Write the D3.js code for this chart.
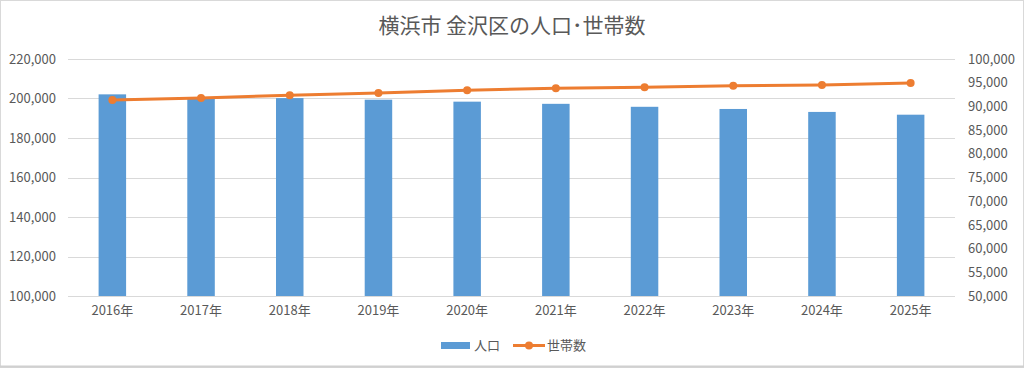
<!DOCTYPE html>
<html>
<head>
<meta charset="utf-8">
<script src="https://cdn.jsdelivr.net/npm/d3@7"></script>
<style>
  body { margin: 0; background: #fff; }
  text { font-family: "Noto Sans CJK JP", "Noto Sans", sans-serif; fill: #595959; }
</style>
</head>
<body>
<div id="chart"></div>
<script>
// data
var years = ["2016年", "2017年", "2018年", "2019年", "2020年", "2021年", "2022年", "2023年", "2024年", "2025年"];
var population = [202100, 200200, 200200, 199400, 198400, 197300, 195800, 194700, 193200, 191800];
var households = [91350, 91780, 92350, 92830, 93400, 93830, 94040, 94370, 94520, 94940];
var leftTicks = [100000, 120000, 140000, 160000, 180000, 200000, 220000];
var rightTicks = [50000, 55000, 60000, 65000, 70000, 75000, 80000, 85000, 90000, 95000, 100000];

var W = 1024, H = 368;
var margin = {top: 59, right: 69, bottom: 72, left: 68},
    width = W - margin.left - margin.right,
    height = H - margin.top - margin.bottom;

var root = d3.select("#chart").append("svg")
    .attr("width", W)
    .attr("height", H);

// chart border
root.append("rect")
    .attr("x", 0.5).attr("y", 0.5)
    .attr("width", W - 1).attr("height", H - 1)
    .attr("fill", "#fff")
    .attr("stroke", "#d9d9d9");
root.append("line")
    .attr("x1", 0).attr("x2", W)
    .attr("y1", H - 1.5).attr("y2", H - 1.5)
    .attr("stroke", "#d0d0d0").attr("stroke-width", 2);

// title
root.append("text")
    .attr("x", 512)
    .attr("y", 33)
    .attr("text-anchor", "middle")
    .style("font-size", "21px")
    .text("横浜市 金沢区の人口･世帯数");

var svg = root.append("g")
    .attr("transform", "translate(" + margin.left + "," + margin.top + ")");

var x = d3.scaleBand()
    .domain(years)
    .range([0, width])
    .paddingInner(0.69)
    .paddingOuter(0.345);

var y = d3.scaleLinear()
    .domain([100000, 220000])
    .range([height, 0]);

var y2 = d3.scaleLinear()
    .domain([50000, 100000])
    .range([height, 0]);

var fmt = d3.format(",");

// gridlines
svg.append("g")
  .selectAll("line")
  .data(leftTicks)
  .enter()
  .append("line")
    .attr("x1", 0)
    .attr("x2", width)
    .attr("y1", function(d) { return Math.round(y(d)) + 0.5; })
    .attr("y2", function(d) { return Math.round(y(d)) + 0.5; })
    .attr("stroke", "#d9d9d9")
    .attr("stroke-width", 1);

// left axis
var leftAxis = svg.append("g")
    .call(d3.axisLeft(y).tickValues(leftTicks).tickFormat(fmt).tickSize(0).tickPadding(12));
leftAxis.select(".domain").remove();
leftAxis.selectAll("text").style("font-size", "13px").attr("fill", "#595959");

// right axis
var rightAxis = svg.append("g")
    .attr("transform", "translate(" + width + ",0)")
    .call(d3.axisRight(y2).tickValues(rightTicks).tickFormat(fmt).tickSize(0).tickPadding(13));
rightAxis.select(".domain").remove();
rightAxis.selectAll("text").style("font-size", "13px").attr("fill", "#595959");

// x axis
var xAxis = svg.append("g")
    .attr("transform", "translate(0," + height + ")")
    .call(d3.axisBottom(x).tickSize(0).tickPadding(10));
xAxis.select(".domain").remove();
xAxis.selectAll("text").style("font-size", "13px").attr("fill", "#595959");

// bars
svg.selectAll("myBars")
  .data(years)
  .enter()
  .append("rect")
    .attr("x", function(d) { return x(d); })
    .attr("y", function(d, i) { return y(population[i]); })
    .attr("width", x.bandwidth())
    .attr("height", function(d, i) { return height - y(population[i]); })
    .attr("fill", "#5b9bd5");

// household line
var line = d3.line()
    .x(function(d, i) { return x(years[i]) + x.bandwidth() / 2; })
    .y(function(d) { return y2(d); });

svg.append("path")
    .datum(households)
    .attr("d", line)
    .attr("fill", "none")
    .attr("stroke", "#ed7d31")
    .attr("stroke-width", 3)
    .attr("stroke-linecap", "round");

svg.selectAll("myDots")
  .data(households)
  .enter()
  .append("circle")
    .attr("cx", function(d, i) { return x(years[i]) + x.bandwidth() / 2; })
    .attr("cy", function(d) { return y2(d); })
    .attr("r", 4)
    .attr("fill", "#ed7d31");

// legend
var legend = root.append("g");
legend.append("rect")
    .attr("x", 441).attr("y", 342)
    .attr("width", 29).attr("height", 7)
    .attr("fill", "#5b9bd5");
legend.append("text")
    .attr("x", 474).attr("y", 350)
    .style("font-size", "13px")
    .text("人口");
legend.append("line")
    .attr("x1", 513).attr("x2", 545)
    .attr("y1", 345.5).attr("y2", 345.5)
    .attr("stroke", "#ed7d31").attr("stroke-width", 3);
legend.append("circle")
    .attr("cx", 529).attr("cy", 345.5).attr("r", 4)
    .attr("fill", "#ed7d31");
legend.append("text")
    .attr("x", 547).attr("y", 350)
    .style("font-size", "13px")
    .text("世帯数");
</script>
</body>
</html>
